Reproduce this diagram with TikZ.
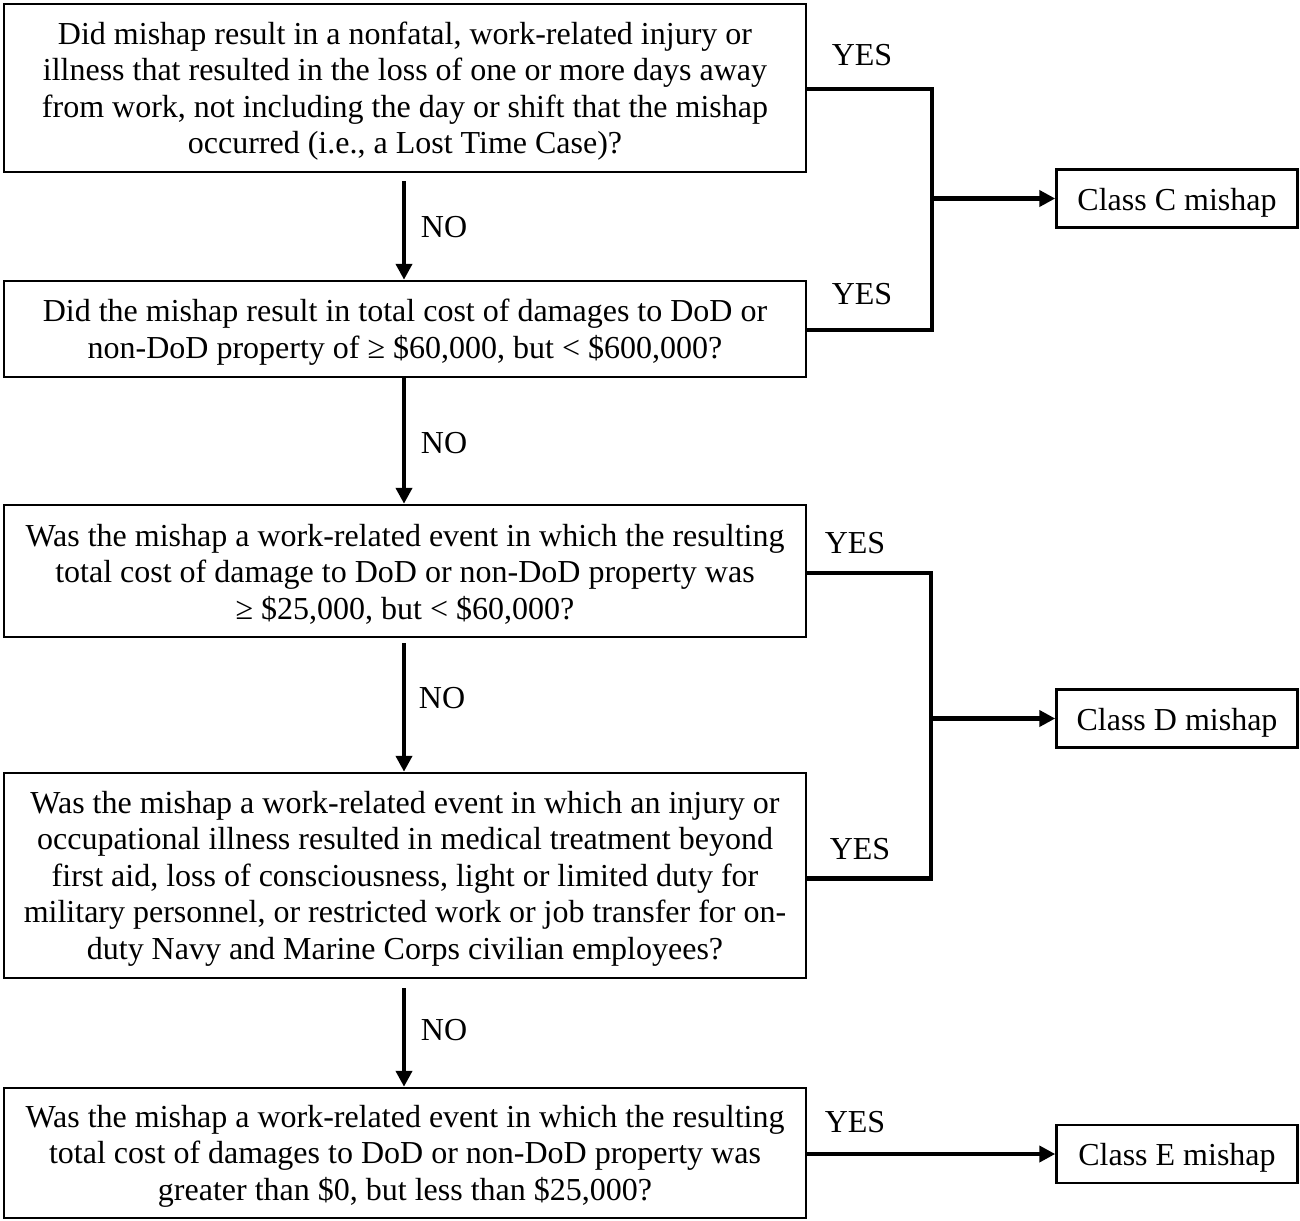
\documentclass[tikz,border=0pt]{standalone}
\usepackage{fontspec}
\setmainfont{Liberation Serif}
\usetikzlibrary{arrows.meta,calc}
\newcommand{\qstrut}{\rule{0pt}{28.5pt}}
\tikzset{
  qbox/.style={draw, line width=2.5pt, minimum width=802pt, align=center, inner sep=0pt,
    font=\fontsize{32}{36.5}\selectfont},
  cbox/.style={draw, line width=2.5pt, minimum width=241pt, minimum height=58pt, inner sep=0pt,
    text height=23pt, text depth=0pt, font=\fontsize{32}{36.5}\selectfont},
  lbl/.style={inner sep=0pt, font=\fontsize{32}{36.5}\selectfont},
  conn/.style={line width=4.2pt},
  arr/.style={line width=4.2pt, -{Triangle[width=16pt,length=16pt]}}
}
\begin{document}
\begin{tikzpicture}[x=1pt,y=-1pt]
\useasboundingbox (0,0) rectangle (1300,1220);
\node[qbox, minimum height=168pt] (q1) at (405,88) {\qstrut Did mishap result in a nonfatal, work-related injury or\\illness that resulted in the loss of one or more days away\\from work, not including the day or shift that the mishap\\occurred (i.e., a Lost Time Case)?};
\node[qbox, minimum height=96pt] (q2) at (405,329) {\qstrut Did the mishap result in total cost of damages to DoD or\\non-DoD property of ≥ \$60,000, but < \$600,000?};
\node[qbox, minimum height=132pt] (q3) at (405,571) {\qstrut Was the mishap a work-related event in which the resulting\\total cost of damage to DoD or non-DoD property was\\≥ \$25,000, but < \$60,000?};
\node[qbox, minimum height=205pt] (q4) at (405,875.5) {\qstrut Was the mishap a work-related event in which an injury or\\occupational illness resulted in medical treatment beyond\\first aid, loss of consciousness, light or limited duty for\\military personnel, or restricted work or job transfer for on-\\duty Navy and Marine Corps civilian employees?};
\node[qbox, minimum height=130pt] (q5) at (405,1153) {\qstrut Was the mishap a work-related event in which the resulting\\total cost of damages to DoD or non-DoD property was\\greater than \$0, but less than \$25,000?};
\node[cbox] (cC) at (1177,198.5) {Class C mishap};
\node[cbox] (cD) at (1177,718.5) {Class D mishap};
\node[cbox] (cE) at (1177,1154) {Class E mishap};
\coordinate (jC) at (932,198.5);
\coordinate (jD) at (931,718.5);
% yes connectors
\draw[conn] ($(q1.east)+(0,1)$) -| (jC);
\draw[conn] ($(q2.east)+(0,1)$) -| (jC);
\draw[arr] (jC) -- (cC.west);
\draw[conn] ($(q3.east)+(0,2)$) -| (jD);
\draw[conn] ($(q4.east)+(0,3)$) -| (jD);
\draw[arr] (jD) -- (cD.west);
\draw[arr] (q5.east |- cE.west) -- (cE.west);
% no arrows
\draw[arr] ([shift={(-1,8)}]q1.south) -- ([xshift=-1pt]q2.north);
\draw[arr] ([xshift=-1pt]q2.south) -- ([xshift=-1pt]q3.north);
\draw[arr] ([shift={(-1,5)}]q3.south) -- ([xshift=-1pt]q4.north);
\draw[arr] ([shift={(-1,9)}]q4.south) -- ([xshift=-1pt]q5.north);
% labels
\node[lbl] (n1) at (444,227) {NO};
\node[lbl] (n2) at (444,443) {NO};
\node[lbl] (n3) at (442,698) {NO};
\node[lbl] (n4) at (444,1030) {NO};
\node[lbl] (y1) at (862,55) {YES};
\node[lbl] (y2) at (862,294) {YES};
\node[lbl] (y3) at (855,543) {YES};
\node[lbl] (y4) at (860,849) {YES};
\node[lbl] (y5) at (855,1122) {YES};
\end{tikzpicture}
\end{document}
